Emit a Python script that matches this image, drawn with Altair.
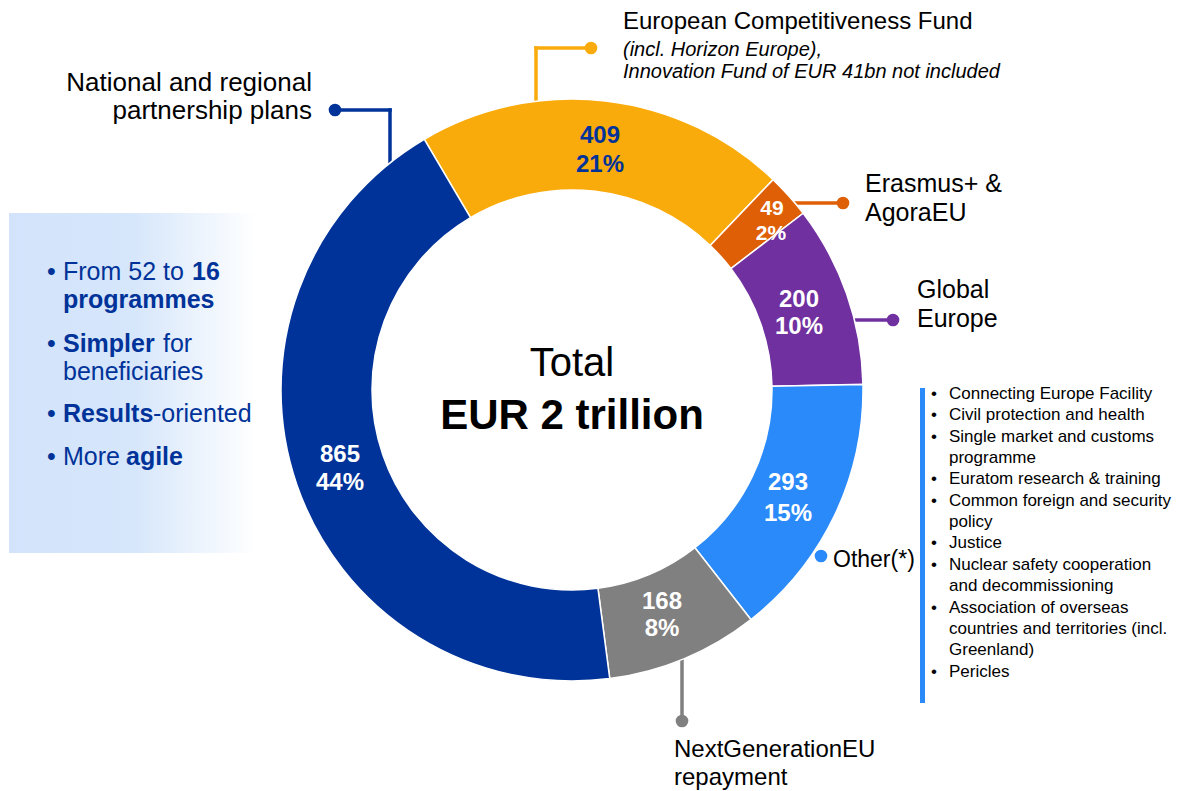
import math
import altair as alt
import pandas as pd

# ---------------- data ----------------
categories = ["European Competitiveness Fund", "Erasmus+ & AgoraEU", "Global Europe",
              "Other(*)", "NextGenerationEU repayment", "National and regional partnership plans"]
values = [409, 49, 200, 293, 168, 865]
pct_labels = ["21%", "2%", "10%", "15%", "8%", "44%"]
slice_colors = ["#FAAB0C", "#DE5F06", "#7030A0", "#2B8AF9", "#808080", "#003399"]
label_colors = ["#003399", "white", "white", "white", "white", "white"]

other_items = [
    ("Connecting Europe Facility", True),
    ("Civil protection and health", True),
    ("Single market and customs", True),
    ("programme", False),
    ("Euratom research & training", True),
    ("Common foreign and security", True),
    ("policy", False),
    ("Justice", True),
    ("Nuclear safety cooperation", True),
    ("and decommissioning", False),
    ("Association of overseas", True),
    ("countries and territories (incl.", False),
    ("Greenland)", False),
    ("Pericles", True),
]

# ---------------- layout (page pixel coordinates) ----------------
W, H = 1169, 783
OFF = 8
CX, CY = 572, 390
R_OUT, R_IN = 291, 200
START = math.radians(-30.5) + 2 * math.pi
FONT = "Liberation Sans"
TOTAL = sum(values)

X = alt.X("x:Q", scale=alt.Scale(domain=[OFF, OFF + W], range=[0, W], nice=False, zero=False), axis=None)
Y = alt.Y("y:Q", scale=alt.Scale(domain=[OFF, OFF + H], range=[0, H], nice=False, zero=False), axis=None)

layers = []

# gradient box on the left
grad = alt.LinearGradient(
    gradient="linear", x1=0, x2=1, y1=0, y2=0,
    stops=[alt.GradientStop(color="#D3E3FB", offset=0),
           alt.GradientStop(color="#D6E6FB", offset=0.5),
           alt.GradientStop(color="#FFFFFF", offset=1)])
layers.append(alt.Chart(pd.DataFrame({"a": [0]})).mark_rect(color=grad).encode(
    x=alt.value(9 - OFF), x2=alt.value(256 - OFF), y=alt.value(213 - OFF), y2=alt.value(553 - OFF)))

# bar beside "Other" list
layers.append(alt.Chart(pd.DataFrame({"a": [0]})).mark_rect(color="#2B8AF9").encode(
    x=alt.value(920 - OFF), x2=alt.value(925 - OFF), y=alt.value(388 - OFF), y2=alt.value(703 - OFF)))

# leader lines
seg = [
    (390, 168, 390, 110, slice_colors[5]), (390, 110, 335, 110, slice_colors[5]),
    (536, 104, 536, 48, slice_colors[0]), (536, 48, 591, 48, slice_colors[0]),
    (790, 203, 843, 203, slice_colors[1]),
    (850, 320, 893, 320, slice_colors[2]),
    (682, 655, 682, 721, slice_colors[4]),
]
seg_df = pd.DataFrame(seg, columns=["x", "y", "x2", "y2", "c"])
layers.append(alt.Chart(seg_df).mark_rule(strokeWidth=3.5, strokeCap="square").encode(
    x=X, y=Y, x2="x2:Q", y2="y2:Q", color=alt.Color("c:N", scale=None)))

# donut
arc_df = pd.DataFrame({"cat": categories, "v": values, "c": slice_colors, "i": list(range(len(values)))})
layers.append(alt.Chart(arc_df).mark_arc(innerRadius=R_IN, outerRadius=R_OUT, stroke="white", strokeWidth=1.5).encode(
    theta=alt.Theta("v:Q", stack=True, scale=alt.Scale(domain=[0, TOTAL], range=[START, START + 2 * math.pi])),
    color=alt.Color("c:N", scale=None),
    order=alt.Order("i:Q"),
    x=alt.value(CX - OFF), y=alt.value(CY - OFF)))

# dots
dots = [(335, 110, slice_colors[5]), (591, 48, slice_colors[0]), (843, 203, slice_colors[1]),
        (893, 320, slice_colors[2]), (821, 556, slice_colors[3]), (682, 721, slice_colors[4])]
dot_df = pd.DataFrame(dots, columns=["x", "y", "c"])
layers.append(alt.Chart(dot_df).mark_circle(size=160, opacity=1).encode(
    x=X, y=Y, color=alt.Color("c:N", scale=None)))

# slice value labels
lab_pos = [((600, 143), (600, 172)), ((772, 215), (771, 240)), ((799, 307), (799, 334)),
           ((788, 490), (788, 521)), ((662, 609), (662, 636)), ((340, 462), (340, 490))]
lab_size = [24, 21, 24, 24, 24, 24]
rows = []
for k in range(len(values)):
    (x1, y1), (x2, y2) = lab_pos[k]
    rows.append({"x": x1, "y": y1, "t": str(values[k]), "c": label_colors[k], "s": lab_size[k]})
    rows.append({"x": x2, "y": y2, "t": pct_labels[k], "c": label_colors[k], "s": lab_size[k]})
lab_df = pd.DataFrame(rows)
layers.append(alt.Chart(lab_df).mark_text(font=FONT, fontWeight="bold", align="center", baseline="alphabetic").encode(
    x=X, y=Y, text="t:N", color=alt.Color("c:N", scale=None), size=alt.Size("s:Q", scale=None)))


def text_layer(rows, **kw):
    df = pd.DataFrame(rows, columns=["x", "y", "t"])
    base = dict(font=FONT, baseline="alphabetic", align="left", color="black", fontSize=25)
    base.update(kw)
    return alt.Chart(df).mark_text(**base).encode(x=X, y=Y, text="t:N")


# centre text
layers.append(text_layer([(572, 376, "Total")], align="center", fontSize=40))
layers.append(text_layer([(572, 429, "EUR 2 trillion")], align="center", fontSize=42, fontWeight="bold"))

# category annotations
layers.append(text_layer([(312, 91, "National and regional"), (312, 119, "partnership plans")],
                         align="right", fontSize=26))
layers.append(text_layer([(623, 29, "European Competitiveness Fund")], fontSize=24))
layers.append(text_layer([(623, 56, "(incl. Horizon Europe),"),
                          (623, 78, "Innovation Fund of EUR 41bn not included")], fontSize=20, fontStyle="italic"))
layers.append(text_layer([(865, 192, "Erasmus+ &"), (865, 221, "AgoraEU")]))
layers.append(text_layer([(917, 298, "Global"), (917, 327, "Europe")]))
layers.append(text_layer([(833, 567, "Other(*)")], fontSize=23))
layers.append(text_layer([(674, 757, "NextGenerationEU"), (674, 785, "repayment")], fontSize=24))

# left bullet box
BLUE = "#003399"
layers.append(text_layer([(47, 280, "•"), (47, 352, "•"), (47, 422, "•"), (47, 465, "•")], color=BLUE))
layers.append(text_layer([(63, 280, "From 52 to"), (163, 352, "for"), (63, 380, "beneficiaries"),
                          (153, 422, "-oriented"), (63, 465, "More")], color=BLUE))
layers.append(text_layer([(192, 280, "16"), (63, 308, "programmes"), (63, 352, "Simpler"),
                          (63, 422, "Results"), (126, 465, "agile")], color=BLUE, fontWeight="bold"))

# "Other" list
item_rows, bullet_rows = [], []
for j, (txt, has_bullet) in enumerate(other_items):
    yb = 399 + 21.35 * j
    item_rows.append((949, yb, txt))
    if has_bullet:
        bullet_rows.append((931, yb, "•"))
layers.append(text_layer(item_rows, fontSize=17))
layers.append(text_layer(bullet_rows, fontSize=17))

chart = alt.layer(*layers).properties(
    width=W, height=H, padding=0, autosize=alt.AutoSizeParams(type="none"), background="white"
).configure_view(stroke=None)

chart.save("out.html", embed_options={"renderer": "svg", "actions": False})
